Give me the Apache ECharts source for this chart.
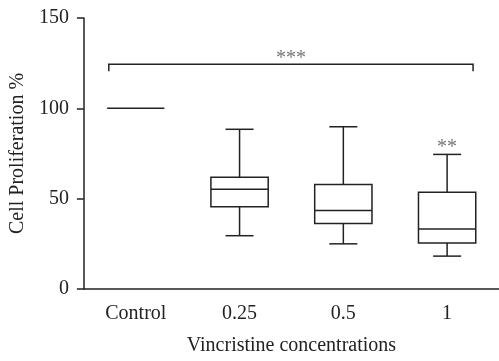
<!DOCTYPE html>
<html><head><meta charset="utf-8">
<script src="https://cdn.jsdelivr.net/npm/echarts@6/dist/echarts.min.js"></script>
<style>html,body{margin:0;padding:0;background:#fff}#c{width:499px;height:361px}</style>
</head><body><div id="c"></div>
<script>
var categories = ['Control', '0.25', '0.5', '1'];
var whiskerLow = [100, 29.5, 25.0, 18.2];
var q1 = [100, 45.5, 36.2, 25.5];
var median = [100, 55.2, 43.4, 33.2];
var q3 = [100, 61.9, 57.9, 53.6];
var whiskerHigh = [100, 88.4, 89.8, 74.5];
var yTicks = [0, 50, 100, 150];
var bracketFrom = 0, bracketTo = 3, bracketValue = 124.4, bracketLabel = '***';
var starCategory = 3, starValue = 78, starLabel = '**';

var FONT = '"Liberation Serif", "Times New Roman", serif';
var INK = '#222';

var boxData = categories.map(function (c, i) {
  return [i, whiskerLow[i], q1[i], median[i], q3[i], whiskerHigh[i]];
});

function renderBox(params, api) {
  var i = api.value(0);
  var band = api.size([1, 0])[0];
  var half = band * 0.276;
  var cap = band * 0.135;
  var x = api.coord([i, 0])[0];
  var yLow = api.coord([i, api.value(1)])[1];
  var yQ1 = api.coord([i, api.value(2)])[1];
  var yMed = api.coord([i, api.value(3)])[1];
  var yQ3 = api.coord([i, api.value(4)])[1];
  var yHigh = api.coord([i, api.value(5)])[1];
  var st = { stroke: INK, lineWidth: 1.5, fill: null };
  var ch = [];
  if (yQ1 - yQ3 > 0.5) {
    ch.push({ type: 'rect', shape: { x: x - half, y: yQ3, width: 2 * half, height: yQ1 - yQ3 }, style: { stroke: INK, lineWidth: 1.5, fill: '#fff' } });
    ch.push({ type: 'line', shape: { x1: x, y1: yQ3, x2: x, y2: yHigh }, style: st });
    ch.push({ type: 'line', shape: { x1: x, y1: yQ1, x2: x, y2: yLow }, style: st });
    ch.push({ type: 'line', shape: { x1: x - cap, y1: yHigh, x2: x + cap, y2: yHigh }, style: st });
    ch.push({ type: 'line', shape: { x1: x - cap, y1: yLow, x2: x + cap, y2: yLow }, style: st });
  }
  ch.push({ type: 'line', shape: { x1: x - half, y1: yMed, x2: x + half, y2: yMed }, style: st });
  return { type: 'group', children: ch };
}

function renderBracket(params, api) {
  var band = api.size([1, 0])[0];
  var p0 = api.coord([api.value(0), api.value(2)]);
  var p1 = api.coord([api.value(1), api.value(2)]);
  var x0 = p0[0] - band * 0.26, x1 = p1[0] + band * 0.25, y = p0[1];
  var st = { stroke: INK, lineWidth: 1.5, fill: null };
  return { type: 'group', children: [
    { type: 'polyline', shape: { points: [[x0, y + 7], [x0, y], [x1, y], [x1, y + 7]] }, style: st },
    { type: 'text', style: { text: bracketLabel, x: (x0 + x1) / 2, y: y - 6, align: 'center', verticalAlign: 'middle', font: '20px ' + FONT, fill: '#777' } }
  ] };
}

function renderStar(params, api) {
  var p = api.coord([api.value(0), api.value(1)]);
  return { type: 'text', style: { text: starLabel, x: p[0], y: p[1], align: 'center', verticalAlign: 'middle', font: '20px ' + FONT, fill: '#777' } };
}

var chart = echarts.init(document.getElementById('c'), null, { renderer: 'canvas' });
chart.setOption({
  animation: false,
  backgroundColor: '#fff',
  grid: { left: 82, top: 18, width: 420, height: 280, containLabel: false },
  xAxis: {
    type: 'category', data: categories, boundaryGap: true,
    name: 'Vincristine concentrations', nameLocation: 'middle', nameGap: 47,
    nameTextStyle: { fontFamily: FONT, fontSize: 20, color: INK },
    axisLine: { lineStyle: { color: INK, width: 1.5 } },
    axisTick: { alignWithLabel: true, length: 7, lineStyle: { color: INK, width: 1.5 } },
    axisLabel: { fontFamily: FONT, fontSize: 20, color: INK, margin: 15 },
    splitLine: { show: false }
  },
  yAxis: {
    type: 'value', min: yTicks[0], max: yTicks[yTicks.length - 1], interval: yTicks[1] - yTicks[0],
    name: 'Cell Proliferation %', nameLocation: 'middle', nameGap: 54,
    nameTextStyle: { fontFamily: FONT, fontSize: 20, color: INK },
    axisLine: { show: true, lineStyle: { color: INK, width: 1.5 } },
    axisTick: { show: true, length: 7, lineStyle: { color: INK, width: 1.5 } },
    axisLabel: { fontFamily: FONT, fontSize: 20, color: INK, margin: 15 },
    splitLine: { show: false }
  },
  series: [
    { type: 'custom', renderItem: renderBox, data: boxData, encode: { x: 0, y: [1, 2, 3, 4, 5] }, clip: false },
    { type: 'custom', renderItem: renderBracket, data: [[bracketFrom, bracketTo, bracketValue]], encode: { x: [0, 1], y: 2 }, clip: false },
    { type: 'custom', renderItem: renderStar, data: [[starCategory, starValue]], encode: { x: 0, y: 1 }, clip: false }
  ]
});
</script></body></html>
